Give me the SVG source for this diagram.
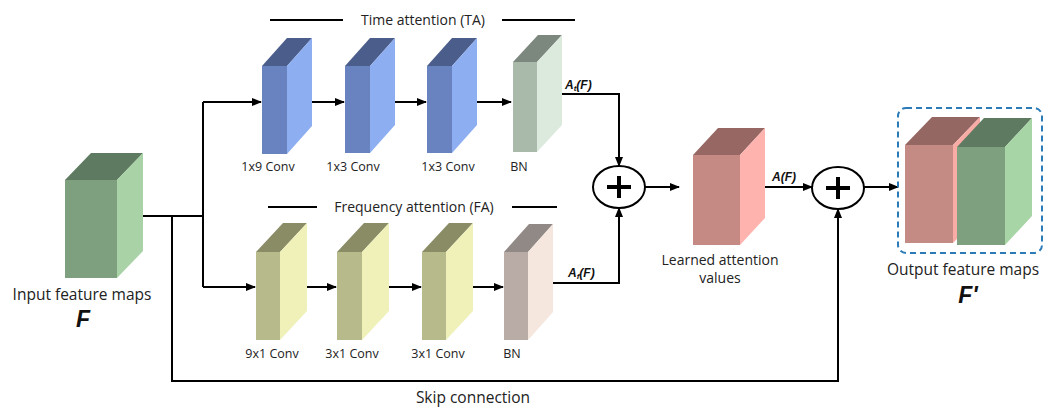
<svg xmlns="http://www.w3.org/2000/svg" width="1046" height="407" viewBox="0 0 1046 407">
<style>
text{font-family:"Open Sans","Liberation Sans",sans-serif;fill:#222}
.lbl{font-size:12.5px;text-anchor:middle}
.ttl{font-size:14px;text-anchor:middle}
.cap{font-size:15.5px;text-anchor:middle}
.math{font-family:"Liberation Sans",Arial,sans-serif;font-weight:bold;font-style:italic;fill:#111}
.ln{fill:none;stroke:#000;stroke-width:2}
.arr{fill:none;stroke:#000;stroke-width:2;marker-end:url(#ah)}
</style>
<defs>
<marker id="ah" markerWidth="10" markerHeight="10" refX="9" refY="5" orient="auto" markerUnits="userSpaceOnUse">
<path d="M0,1 L10,5 L0,9 Z" fill="#000"/>
</marker>
</defs>
<rect width="1046" height="407" fill="#fff"/>

<g id="connectors">
<polyline class="ln" points="143,216 203,216"/>
<polyline class="ln" points="203,102 203,287"/>
<line class="arr" x1="203" y1="102" x2="261" y2="102"/>
<line class="arr" x1="203" y1="287" x2="255" y2="287"/>
<line class="arr" x1="312" y1="102" x2="344" y2="102"/>
<line class="arr" x1="395" y1="102" x2="426" y2="102"/>
<line class="arr" x1="477" y1="102" x2="511" y2="102"/>
<line class="arr" x1="307" y1="287" x2="336" y2="287"/>
<line class="arr" x1="389" y1="287" x2="421" y2="287"/>
<line class="arr" x1="473" y1="287" x2="503" y2="287"/>
<polyline class="arr" points="562,94 619,94 619,166"/>
<polyline class="arr" points="553,283 619,283 619,208"/>
<line class="arr" x1="645" y1="187" x2="679" y2="187"/>
<line class="arr" x1="765" y1="187" x2="812" y2="187"/>
<line class="arr" x1="864" y1="187" x2="898" y2="187"/>
<polyline class="arr" points="172,216 172,381 838,381 838,209"/>
</g>

<g id="input">
<rect x="65" y="180" width="52" height="98" fill="#7fa07f"/>
<polygon points="65,180 117,180 143,153 91,153" fill="#5e7a60"/>
<polygon points="117,180 143,153 143,251 117,278" fill="#a9d3a6"/>
<text class="cap" x="82" y="300">Input feature maps</text>
<text class="math" x="83" y="327" font-size="23" text-anchor="middle">F</text>
</g>

<g id="ta-title">
<line class="ln" x1="270" y1="20" x2="343" y2="20"/>
<text class="ttl" x="423" y="25">Time attention (TA)</text>
<line class="ln" x1="502" y1="20" x2="575" y2="20"/>
</g>

<g id="ta-conv1">
<rect x="262" y="66" width="25" height="88" fill="#6982c0"/>
<polygon points="262,66 287,66 312,38 287,38" fill="#4b5d8a"/>
<polygon points="287,66 312,38 312,126 287,154" fill="#8eaef2"/>
<text class="lbl" x="268" y="171">1x9 Conv</text>
</g>
<g id="ta-conv2">
<rect x="345" y="66" width="25" height="87" fill="#6982c0"/>
<polygon points="345,66 370,66 395,38 370,38" fill="#4b5d8a"/>
<polygon points="370,66 395,38 395,125 370,153" fill="#8eaef2"/>
<text class="lbl" x="353" y="171">1x3 Conv</text>
</g>
<g id="ta-conv3">
<rect x="427" y="66" width="25" height="87" fill="#6982c0"/>
<polygon points="427,66 452,66 477,38 452,38" fill="#4b5d8a"/>
<polygon points="452,66 477,38 477,125 452,153" fill="#8eaef2"/>
<text class="lbl" x="448" y="171">1x3 Conv</text>
</g>
<g id="ta-bn">
<rect x="513" y="62" width="24" height="90" fill="#a9b9aa"/>
<polygon points="513,62 537,62 562,35 538,35" fill="#7c877e"/>
<polygon points="537,62 562,35 562,125 537,152" fill="#dceade"/>
<text class="lbl" x="519" y="171">BN</text>
</g>
<g id="at-label">
<text class="math" x="565" y="89" font-size="12">A<tspan font-size="8" dy="2">t</tspan><tspan dy="-2">(F)</tspan></text>
</g>

<g id="fa-title">
<line class="ln" x1="268" y1="207" x2="317" y2="207"/>
<text class="ttl" x="414" y="212">Frequency attention (FA)</text>
<line class="ln" x1="512" y1="207" x2="557" y2="207"/>
</g>

<g id="fa-conv1">
<rect x="256" y="252" width="24" height="88" fill="#b7bb8c"/>
<polygon points="256,252 280,252 307,223 283,223" fill="#8a8c66"/>
<polygon points="280,252 307,223 307,311 280,340" fill="#f0f1b9"/>
<text class="lbl" x="272" y="358">9x1 Conv</text>
</g>
<g id="fa-conv2">
<rect x="337" y="252" width="25" height="88" fill="#b7bb8c"/>
<polygon points="337,252 362,252 389,223 364,223" fill="#8a8c66"/>
<polygon points="362,252 389,223 389,311 362,340" fill="#f0f1b9"/>
<text class="lbl" x="352" y="358">3x1 Conv</text>
</g>
<g id="fa-conv3">
<rect x="422" y="252" width="24" height="88" fill="#b7bb8c"/>
<polygon points="422,252 446,252 473,223 449,223" fill="#8a8c66"/>
<polygon points="446,252 473,223 473,311 446,340" fill="#f0f1b9"/>
<text class="lbl" x="438" y="358">3x1 Conv</text>
</g>
<g id="fa-bn">
<rect x="504" y="252" width="24" height="88" fill="#b9aba6"/>
<polygon points="504,252 528,252 553,224 529,224" fill="#918985"/>
<polygon points="528,252 553,224 553,312 528,340" fill="#f5e6de"/>
<text class="lbl" x="512" y="358">BN</text>
</g>
<g id="af-label">
<text class="math" x="568" y="277" font-size="12">A<tspan font-size="8" dy="2">f</tspan><tspan dy="-2">(F)</tspan></text>
</g>

<g id="sum1">
<ellipse cx="619" cy="187" rx="26" ry="21" fill="#fff" stroke="#000" stroke-width="2"/>
<path d="M607,187 H631 M619,176 V198" stroke="#000" stroke-width="4" fill="none"/>
</g>

<g id="learned">
<rect x="693" y="155" width="47" height="90" fill="#c68a84"/>
<polygon points="693,155 740,155 765,128 718,128" fill="#966763"/>
<polygon points="740,155 765,128 765,218 740,245" fill="#ffb3ae"/>
<text class="ttl" x="720" y="265" font-size="14.5">Learned attention</text>
<text class="ttl" x="720" y="283" font-size="14.5">values</text>
</g>
<g id="af-total">
<text class="math" x="772" y="181" font-size="12">A(F)</text>
</g>

<g id="sum2">
<ellipse cx="838" cy="188" rx="26" ry="21" fill="#fff" stroke="#000" stroke-width="2"/>
<path d="M826,188 H850 M838,177 V199" stroke="#000" stroke-width="4" fill="none"/>
</g>

<g id="output">
<rect x="898" y="108" width="144" height="145" rx="8" fill="none" stroke="#2b7bb9" stroke-width="2" stroke-dasharray="6 4"/>
<rect x="905" y="145" width="48" height="98" fill="#c48a84"/>
<polygon points="905,145 953,145 980,117 932,117" fill="#956763"/>
<polygon points="953,145 980,117 980,215 953,243" fill="#f9aba6"/>
<rect x="957" y="147" width="48" height="98" fill="#7fa07f"/>
<polygon points="957,147 1005,147 1032,118 984,118" fill="#5e7a60"/>
<polygon points="1005,147 1032,118 1032,216 1005,245" fill="#a8d5a6"/>
<text class="cap" x="963" y="275">Output feature maps</text>
<text class="math" x="968" y="303" font-size="23" text-anchor="middle">F'</text>
</g>

<g id="skip-label">
<text class="cap" x="473" y="403">Skip connection</text>
</g>
</svg>
